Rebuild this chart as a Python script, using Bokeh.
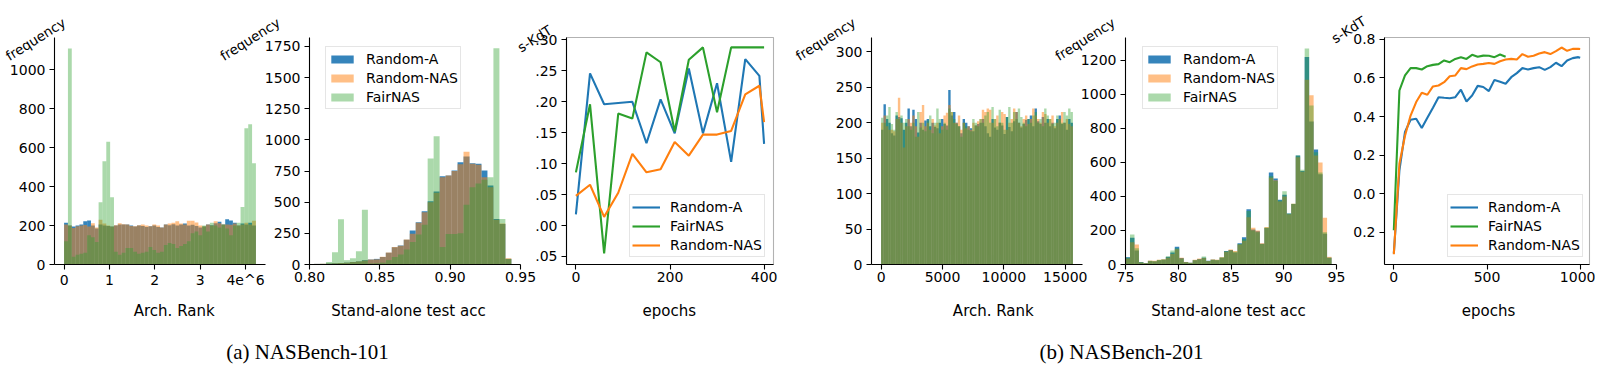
import numpy as np
from bokeh.plotting import figure
from bokeh.models import (Range1d, Label, Legend, LegendItem, FixedTicker, BoxAnnotation, LinearAxis)
from bokeh.core.properties import value
from bokeh.embed import file_html
from bokeh.resources import INLINE

# ------------------------------------------------------------------ data
series = ["Random-A", "Random-NAS", "FairNAS"]

# (a) NASBench-101 : histogram of architecture rank (x in units of 1e6), 50 bins
rank101_range = (0.0, 4.23)
rank101_random_a = [215, 200, 195, 200, 205, 222, 226, 200, 185, 205, 200, 198, 195, 200, 205, 206, 205, 200, 195, 200,
                    198, 192, 197, 200, 193, 190, 205, 202, 207, 200, 205, 210, 200, 204, 198, 190, 195, 206, 202, 212,
                    220, 205, 232, 226, 214, 200, 210, 205, 215, 200]
rank101_random_nas = [205, 200, 188, 196, 200, 203, 195, 212, 190, 230, 210, 200, 195, 202, 212, 207, 205, 198, 196, 202,
                      205, 200, 196, 206, 200, 190, 205, 210, 215, 222, 210, 205, 225, 225, 216, 200, 196, 205, 200, 222,
                      212, 206, 205, 204, 210, 200, 205, 215, 205, 225]
rank101_fairnas = [120, 1110, 40, 50, 55, 60, 150, 140, 115, 320, 530, 630, 345, 65, 50, 60, 85, 85, 65, 55,
                   60, 65, 90, 75, 60, 65, 100, 110, 105, 85, 95, 105, 120, 160, 170, 150, 200, 170, 215, 200,
                   190, 205, 185, 150, 200, 215, 295, 700, 720, 520]

# (a) NASBench-101 : histogram of stand-alone test accuracy, 34 bins
acc101_range = (0.799, 0.9435)
acc101_random_a = [3, 5, 5, 8, 10, 12, 15, 20, 25, 35, 40, 45, 60, 94, 139, 152, 198, 273, 340, 428,
                   508, 586, 709, 714, 754, 821, 867, 813, 808, 754, 634, 366, 326, 45]
acc101_random_nas = [3, 5, 6, 8, 10, 12, 15, 20, 25, 32, 40, 42, 62, 96, 140, 150, 200, 246, 335, 420,
                     500, 575, 700, 715, 750, 805, 905, 808, 800, 700, 620, 360, 330, 50]
acc101_fairnas = [2, 3, 5, 20, 99, 364, 35, 50, 107, 439, 8, 10, 15, 35, 60, 80, 120, 180, 240, 320,
                  850, 1030, 140, 245, 245, 250, 480, 620, 650, 680, 700, 1735, 366, 45]

# (a) NASBench-101 : s-KdT vs epochs
kdt101_epochs = [0, 30, 60, 90, 120, 150, 180, 210, 240, 270, 300, 330, 360, 390, 400]
kdt101_random_a = [0.018, 0.246, 0.196, 0.198, 0.200, 0.133, 0.204, 0.149, 0.254, 0.149, 0.230, 0.103, 0.269, 0.242, 0.132]
kdt101_fairnas = [0.086, 0.196, -0.045, 0.181, 0.173, 0.280, 0.264, 0.152, 0.268, 0.288, 0.183, 0.288, 0.288, 0.288, 0.288]
kdt101_random_nas = [0.048, 0.066, 0.014, 0.053, 0.116, 0.086, 0.091, 0.135, 0.113, 0.147, 0.147, 0.153, 0.212, 0.226, 0.167]

# (b) NASBench-201 : histogram of architecture rank, 80 bins
rank201_range = (0, 15625)
rank201_random_a = [190, 226, 205, 200, 185, 182, 210, 208, 206, 190, 200, 220, 195, 218, 205, 186, 200, 190, 203, 205,
                    195, 200, 194, 192, 200, 205, 198, 196, 246, 210, 215, 200, 195, 185, 205, 200, 195, 192, 188, 196,
                    198, 200, 205, 195, 185, 180, 205, 193, 190, 200, 196, 184, 208, 194, 188, 202, 215, 200, 193, 198,
                    204, 205, 210, 195, 220, 202, 198, 208, 200, 205, 195, 200, 192, 205, 210, 198, 200, 190, 205, 200]
rank201_random_nas = [200, 210, 195, 190, 190, 188, 205, 235, 200, 165, 195, 205, 200, 210, 195, 180, 215, 225, 195, 200,
                      190, 205, 196, 200, 185, 195, 210, 214, 225, 215, 200, 200, 210, 190, 200, 192, 195, 190, 200, 196,
                      202, 205, 218, 215, 220, 218, 200, 205, 210, 200, 215, 212, 190, 200, 205, 220, 215, 200, 195, 205,
                      210, 198, 205, 220, 210, 205, 200, 215, 212, 200, 205, 210, 195, 200, 205, 215, 200, 205, 198, 195]
rank201_fairnas = [207, 200, 210, 222, 198, 190, 215, 205, 210, 200, 205, 195, 190, 200, 180, 215, 193, 200, 188, 203,
                   210, 185, 200, 220, 205, 190, 200, 190, 220, 215, 205, 198, 195, 180, 200, 195, 190, 188, 205, 200,
                   195, 205, 200, 210, 215, 200, 222, 205, 195, 218, 200, 190, 208, 222, 200, 215, 205, 220, 208, 200,
                   195, 205, 200, 210, 215, 200, 205, 195, 220, 210, 205, 198, 200, 210, 205, 200, 215, 210, 220, 215]

# (b) NASBench-201 : histogram of stand-alone test accuracy (%), 46 bins
acc201_range = (75.0, 94.53)
acc201_random_a = [43, 157, 82, 14, 8, 20, 18, 25, 28, 45, 70, 105, 38, 14, 10, 25, 32, 40, 22, 28,
                   25, 40, 80, 85, 70, 125, 160, 325, 205, 195, 122, 215, 540, 505, 380, 410, 300, 355, 641, 550,
                   1220, 840, 676, 530, 180, 40]
acc201_random_nas = [35, 131, 118, 12, 8, 23, 22, 28, 31, 40, 62, 90, 40, 15, 10, 28, 35, 38, 20, 30,
                     28, 43, 75, 88, 80, 118, 140, 278, 216, 200, 125, 220, 510, 495, 370, 400, 295, 357, 630, 545,
                     1086, 994, 640, 600, 275, 45]
acc201_fairnas = [40, 176, 95, 14, 8, 22, 20, 27, 30, 48, 82, 95, 35, 14, 10, 26, 30, 47, 20, 28,
                  27, 42, 78, 82, 75, 120, 150, 315, 200, 190, 120, 218, 520, 490, 376, 430, 300, 357, 641, 557,
                  1270, 935, 660, 540, 190, 40]

# (b) NASBench-201 : s-KdT vs epochs
kdt201_epochs = [0, 30, 60, 90, 120, 150, 180, 210, 240, 270, 300, 330, 360, 390, 420, 450, 480, 510, 540, 570,
                 600, 630, 660, 690, 720, 750, 780, 810, 840, 870, 900, 930, 960, 990, 1000]
kdt201_random_a = [-0.31, 0.12, 0.32, 0.383, 0.388, 0.34, 0.394, 0.446, 0.50, 0.497, 0.495, 0.50, 0.539, 0.478, 0.509,
                   0.559, 0.553, 0.532, 0.59, 0.58, 0.57, 0.604, 0.625, 0.651, 0.644, 0.651, 0.656, 0.642, 0.656,
                   0.679, 0.661, 0.691, 0.703, 0.708, 0.705]
kdt201_random_nas = [-0.315, 0.155, 0.30, 0.405, 0.475, 0.523, 0.513, 0.556, 0.561, 0.578, 0.609, 0.613, 0.651, 0.646,
                     0.66, 0.67, 0.673, 0.678, 0.673, 0.687, 0.696, 0.699, 0.696, 0.724, 0.71, 0.715, 0.727, 0.734,
                     0.724, 0.739, 0.758, 0.741, 0.751, 0.751, 0.75]
kdt201_fairnas_epochs = [0, 30, 60, 90, 120, 150, 180, 210, 240, 270, 300, 330, 360, 390, 420, 450, 480, 510, 540,
                         570, 600]
kdt201_fairnas = [-0.19, 0.535, 0.613, 0.651, 0.651, 0.644, 0.661, 0.668, 0.672, 0.691, 0.682, 0.699, 0.708, 0.699,
                  0.72, 0.71, 0.716, 0.715, 0.708, 0.722, 0.71]

# tick labels
rank101_xticks, rank101_xlabels = [0, 1, 2, 3, 4], ["0", "1", "2", "3", "4e^6"]
rank101_yticks = [0, 200, 400, 600, 800, 1000]
acc101_xticks, acc101_xlabels = [0.80, 0.85, 0.90, 0.95], ["0.80", "0.85", "0.90", "0.95"]
acc101_yticks = [0, 250, 500, 750, 1000, 1250, 1500, 1750]
kdt101_xticks = [0, 200, 400]
kdt101_yticks = [-0.05, 0.0, 0.05, 0.10, 0.15, 0.20, 0.25, 0.30]
kdt101_ylabels = [".05", ".00", ".05", ".10", ".15", ".20", ".25", ".30"]
rank201_xticks = [0, 5000, 10000, 15000]
rank201_yticks = [0, 50, 100, 150, 200, 250, 300]
acc201_xticks = [75, 80, 85, 90, 95]
acc201_yticks = [0, 200, 400, 600, 800, 1000, 1200]
kdt201_xticks = [0, 500, 1000]
kdt201_yticks = [-0.2, 0.0, 0.2, 0.4, 0.6, 0.8]
kdt201_ylabels = ["0.2", "0.0", "0.2", "0.4", "0.6", "0.8"]

captions = ["(a) NASBench-101", "(b) NASBench-201"]

# ------------------------------------------------------------------ style / layout
BLUE, ORANGE, GREEN = "#1f77b4", "#ff7f0e", "#2ca02c"
FONT = "DejaVu Sans"
W, H = 1595, 366            # canvas (page x 8 .. 1603, page y 0 .. 366)
X_OFF = 8
PTOP, PBOT = 37, 264        # plot-area top / bottom (page px)

p = figure(width=W, height=H, x_range=Range1d(0, W), y_range=Range1d(0, H),
           x_axis_type=None, y_axis_type=None, output_backend="svg", toolbar_location=None,
           title=None, min_border=0, min_border_left=0, min_border_right=0,
           min_border_top=0, min_border_bottom=0)
p.background_fill_color = None
p.border_fill_color = None
p.outline_line_color = None

xr_extra, yr_extra = {}, {}
panels = {}


def panel(name, fl, fw, xr, yr, xt, yt, xl=None, yl=None, box=False):
    x0, x1 = xr
    y0, y1 = yr
    sx = (x1 - x0) / fw
    sy = (y1 - y0) / (PBOT - PTOP)
    xr_extra[name] = Range1d(x0 - (fl - X_OFF) * sx, x1 + (X_OFF + W - fl - fw) * sx)
    yr_extra[name] = Range1d(y0 - (H - PBOT) * sy, y1 + PTOP * sy)
    panels[name] = dict(xr=xr, yr=yr, xt=xt, yt=yt, xl=xl, yl=yl, box=box)


def style_axis(ax):
    ax.axis_line_color = "black"
    ax.axis_line_width = 1.1
    ax.major_tick_line_color = "black"
    ax.major_tick_line_width = 1.1
    ax.major_tick_out = 5
    ax.major_tick_in = 0
    ax.minor_tick_line_color = None
    ax.major_label_text_font = FONT
    ax.major_label_text_font_size = "14px"
    ax.major_label_text_color = "black"


def build_axes(name):
    d = panels[name]
    x0, x1 = d["xr"]
    y0, y1 = d["yr"]
    xa = LinearAxis(x_range_name=name, y_range_name=name, fixed_location=y0, bounds=(x0, x1),
                    ticker=FixedTicker(ticks=d["xt"]), major_label_standoff=2)
    xa.major_label_overrides = {t: (d["xl"][i] if d["xl"] else str(t)) for i, t in enumerate(d["xt"])}
    ya = LinearAxis(x_range_name=name, y_range_name=name, fixed_location=x0, bounds=(y0, y1),
                    ticker=FixedTicker(ticks=d["yt"]), major_label_standoff=4)
    if d["yl"]:
        ya.major_label_overrides = {t: d["yl"][i] for i, t in enumerate(d["yt"])}
    style_axis(xa)
    style_axis(ya)
    p.add_layout(xa, "below")
    p.add_layout(ya, "left")
    if d["box"]:
        p.add_layout(BoxAnnotation(left=x0, right=x1, bottom=y0, top=y1, x_range_name=name, y_range_name=name,
                                   fill_alpha=0, line_color="black", line_width=1.1))


def add_text(px, py, text, size="15px", font=FONT):
    # px, py: page-pixel centre of the text -> canvas screen units (origin bottom-left)
    p.add_layout(Label(x=px - X_OFF, y=H - py, x_units="screen", y_units="screen",
                       text=text, text_align="center", text_baseline="middle",
                       text_font=font, text_font_size=size, text_color="black"))


# rotated axis titles ("frequency", "s-KdT"), drawn as text glyphs on the canvas-pixel default ranges
rot_px, rot_py, rot_text = [], [], []


def add_rot_text(px, py, text):
    rot_px.append(px - X_OFF)
    rot_py.append(H - py)
    rot_text.append(text)


def hist(name, rng, counts, color, alpha):
    edges = np.linspace(rng[0], rng[1], len(counts) + 1)
    return p.quad(left=edges[:-1], right=edges[1:], bottom=0, top=counts,
                  fill_color=color, fill_alpha=alpha, line_color=None,
                  x_range_name=name, y_range_name=name)


def line(name, x, y, color):
    return p.line(x, y, line_color=color, line_width=2.1, x_range_name=name, y_range_name=name)


LEG_SHIFT = 10   # compensates Bokeh's legend x placement


def add_legend(items, left_px, bottom_px):
    lg = Legend(items=[LegendItem(label=l, renderers=[r]) for l, r in items],
                location=(left_px - X_OFF + LEG_SHIFT, H - bottom_px),
                label_text_font=FONT, label_text_font_size="14px", label_text_color="black",
                glyph_width=28, glyph_height=10, label_height=19, label_standoff=10,
                spacing=0, padding=2, margin=0,
                border_line_color="#cccccc", border_line_width=1,
                background_fill_color="white", background_fill_alpha=0.8)
    p.add_layout(lg)


LEG_H, LEG_W = 66, 144

panel("p1", 62, 211, (-0.2115, 4.4415), (0, 1166), rank101_xticks, rank101_yticks, rank101_xlabels)
panel("p2", 317, 211, (0.80, 0.95), (0, 1822), acc101_xticks, acc101_yticks, acc101_xlabels)
panel("p3", 574, 207, (-20, 420), (-0.063, 0.304), kdt101_xticks, kdt101_yticks, None, kdt101_ylabels, box=True)
panel("p4", 879, 211, (-781, 16406), (0, 320), rank201_xticks, rank201_yticks)
panel("p5", 1133, 211, (75, 95), (0, 1334), acc201_xticks, acc201_yticks)
panel("p6", 1392, 205, (-50, 1050), (-0.368, 0.81), kdt201_xticks, kdt201_yticks, None, kdt201_ylabels, box=True)
p.extra_x_ranges = xr_extra
p.extra_y_ranges = yr_extra
for nm in ["p1", "p2", "p3", "p4", "p5", "p6"]:
    build_axes(nm)

# ---- panel 1
hist("p1", rank101_range, rank101_random_a, BLUE, 0.9)
hist("p1", rank101_range, rank101_random_nas, ORANGE, 0.5)
hist("p1", rank101_range, rank101_fairnas, GREEN, 0.4)
add_rot_text(43, 38.5, "frequency")
add_text(181.7, 310, "Arch. Rank")

# ---- panel 2
r_a = hist("p2", acc101_range, acc101_random_a, BLUE, 0.9)
r_n = hist("p2", acc101_range, acc101_random_nas, ORANGE, 0.5)
r_f = hist("p2", acc101_range, acc101_fairnas, GREEN, 0.4)
add_legend([(series[0], r_a), (series[1], r_n), (series[2], r_f)], 323, 43 + LEG_H)
add_rot_text(257.5, 38.5, "frequency")
add_text(416, 310, "Stand-alone test acc")
add_text(315, 351, captions[0], "21px", "Liberation Serif")

# ---- panel 3
l_a = line("p3", kdt101_epochs, kdt101_random_a, BLUE)
l_f = line("p3", kdt101_epochs, kdt101_fairnas, GREEN)
l_n = line("p3", kdt101_epochs, kdt101_random_nas, ORANGE)
add_legend([("Random-A", l_a), ("FairNAS", l_f), ("Random-NAS", l_n)], 771 - LEG_W, 257)
add_rot_text(542, 38, "s-KdT")
add_text(676.7, 310, "epochs")

# ---- panel 4
hist("p4", rank201_range, rank201_random_a, BLUE, 0.9)
hist("p4", rank201_range, rank201_random_nas, ORANGE, 0.5)
hist("p4", rank201_range, rank201_fairnas, GREEN, 0.4)
add_rot_text(833, 38.5, "frequency")
add_text(1000.8, 310, "Arch. Rank")

# ---- panel 5
s_a = hist("p5", acc201_range, acc201_random_a, BLUE, 0.9)
s_n = hist("p5", acc201_range, acc201_random_nas, ORANGE, 0.5)
s_f = hist("p5", acc201_range, acc201_fairnas, GREEN, 0.4)
add_legend([(series[0], s_a), (series[1], s_n), (series[2], s_f)], 1140, 43 + LEG_H)
add_rot_text(1092.5, 38.5, "frequency")
add_text(1236, 310, "Stand-alone test acc")
add_text(1129, 351, captions[1], "21px", "Liberation Serif")

# ---- panel 6
m_a = line("p6", kdt201_epochs, kdt201_random_a, BLUE)
m_f = line("p6", kdt201_fairnas_epochs, kdt201_fairnas, GREEN)
m_n = line("p6", kdt201_epochs, kdt201_random_nas, ORANGE)
add_legend([("Random-A", m_a), ("FairNAS", m_f), ("Random-NAS", m_n)], 1589 - LEG_W, 257)
add_rot_text(1356, 29, "s-KdT")
add_text(1496, 310, "epochs")

p.text(x=rot_px, y=rot_py, text=rot_text, angle=32, angle_units="deg",
       text_align="center", text_baseline="middle", text_color="black",
       text_font=value(FONT), text_font_size=value("13.5px"))

open("out.html", "w").write(file_html(p, INLINE))
